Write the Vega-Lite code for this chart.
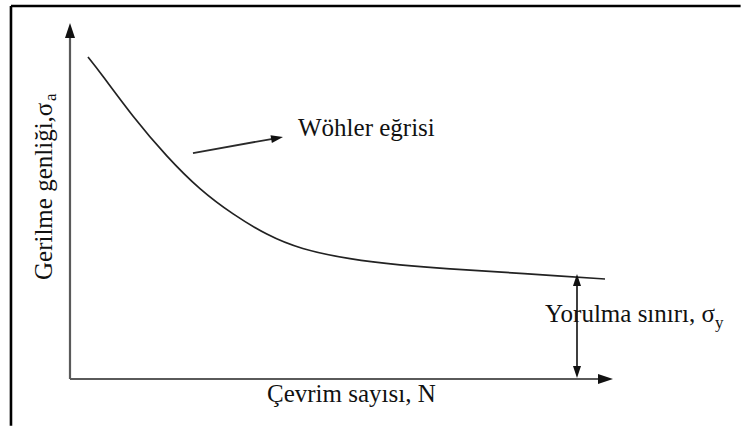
{
  "$schema": "https://vega.github.io/schema/vega-lite/v6.json",
  "width": 741,
  "height": 426,
  "autosize": {"type": "none"},
  "padding": 0,
  "background": "white",
  "config": {"view": {"stroke": null}},
  "datasets": {
    "frame": [
      {"x": -10.87, "y": 104.78, "x2": 123.5, "y2": 104.78},
      {"x": -10.87, "y": 104.78, "x2": -10.87, "y2": -13.15}
    ],
    "axes": [
      {"x": 0, "y": 0, "x2": 0, "y2": 96.5},
      {"x": 0, "y": 0, "x2": 97.8, "y2": 0}
    ],
    "axisHeads": [
      {"x": 0, "y": 100, "dir": "up"},
      {"x": 100, "y": 0, "dir": "right"}
    ],
    "wohler": [
      {"x": 3.31, "y": 90.45},
      {"x": 5.52, "y": 86.24},
      {"x": 11.6, "y": 73.6},
      {"x": 17.86, "y": 62.36},
      {"x": 23.94, "y": 53.09},
      {"x": 30.02, "y": 46.2},
      {"x": 36.28, "y": 40.4},
      {"x": 42.36, "y": 36.5},
      {"x": 51.57, "y": 33.6},
      {"x": 60.77, "y": 32.0},
      {"x": 69.98, "y": 30.9},
      {"x": 79.19, "y": 30.06},
      {"x": 90.24, "y": 28.93},
      {"x": 98.53, "y": 28.09}
    ],
    "pointers": [
      {"x": 22.65, "y": 63.48, "x2": 37.6, "y2": 67.55},
      {"x": 93.37, "y": 27.5, "x2": 93.37, "y2": 2.0}
    ],
    "limitHeads": [
      {"x": 93.37, "y": 29.49, "dir": "up"},
      {"x": 93.37, "y": 0.28, "dir": "down"}
    ],
    "curveHead": [
      {"x": 39.23, "y": 67.98, "dir": "right"}
    ],
    "labels": [
      {"x": 41.99, "y": 68.26, "label": "Wöhler eğrisi"},
      {"x": 87.48, "y": 16.01, "label": "Yorulma sınırı, σ"},
      {"x": 36.28, "y": -6.46, "label": "Çevrim sayısı, N"}
    ],
    "subscripts": [
      {"x": 118.78, "y": 14.33, "label": "y"}
    ],
    "yTitle": [
      {"x": -3.31, "y": 27.81, "label": "Gerilme genliği,σ"}
    ],
    "yTitleSub": [
      {"x": -2.58, "y": 78.09, "label": "a"}
    ]
  },
  "encoding": {
    "x": {"field": "x", "type": "quantitative", "axis": null,
          "scale": {"domain": [-12.891, 123.573], "nice": false, "zero": false}},
    "y": {"field": "y", "type": "quantitative", "axis": null,
          "scale": {"domain": [-13.202, 106.461], "nice": false, "zero": false}}
  },
  "layer": [
    {
      "data": {"name": "frame"},
      "mark": {"type": "rule", "color": "#000000", "strokeWidth": 2.6},
      "encoding": {"x2": {"field": "x2"}, "y2": {"field": "y2"}}
    },
    {
      "data": {"name": "axes"},
      "mark": {"type": "rule", "color": "#5a5a5a", "strokeWidth": 2.2},
      "encoding": {"x2": {"field": "x2"}, "y2": {"field": "y2"}}
    },
    {
      "data": {"name": "axisHeads"},
      "mark": {"type": "point", "filled": true, "opacity": 1, "color": "#111111", "size": 225, "strokeWidth": 0},
      "encoding": {
        "shape": {"field": "dir", "type": "nominal", "legend": null,
                  "scale": {"domain": ["up", "down", "right"],
                            "range": ["M0,0L-0.667,2L0.667,2Z", "M0,0L-0.667,-2L0.667,-2Z", "M0,0L-2,-0.667L-2,0.667Z"]}}
      }
    },
    {
      "data": {"name": "wohler"},
      "mark": {"type": "line", "color": "#222222", "strokeWidth": 1.7, "interpolate": "basis"},
      "encoding": {}
    },
    {
      "data": {"name": "pointers"},
      "mark": {"type": "rule", "color": "#2a2a2a", "strokeWidth": 1.8},
      "encoding": {"x2": {"field": "x2"}, "y2": {"field": "y2"}}
    },
    {
      "data": {"name": "limitHeads"},
      "mark": {"type": "point", "filled": true, "opacity": 1, "color": "#111111", "size": 144, "strokeWidth": 0},
      "encoding": {
        "shape": {"field": "dir", "type": "nominal", "legend": null,
                  "scale": {"domain": ["up", "down", "right"],
                            "range": ["M0,0L-0.667,2L0.667,2Z", "M0,0L-0.667,-2L0.667,-2Z", "M0,0L-2,-0.667L-2,0.667Z"]}}
      }
    },
    {
      "data": {"name": "curveHead"},
      "mark": {"type": "point", "filled": true, "opacity": 1, "color": "#111111", "size": 144, "strokeWidth": 0, "angle": 350,
               "shape": "M0,0L-2,-0.667L-2,0.667Z"},
      "encoding": {}
    },
    {
      "data": {"name": "labels"},
      "mark": {"type": "text", "font": "Liberation Serif", "fontSize": 25, "color": "#111111", "align": "left", "baseline": "alphabetic"},
      "encoding": {"text": {"field": "label"}}
    },
    {
      "data": {"name": "subscripts"},
      "mark": {"type": "text", "font": "Liberation Serif", "fontSize": 17, "color": "#111111", "align": "left", "baseline": "alphabetic"},
      "encoding": {"text": {"field": "label"}}
    },
    {
      "data": {"name": "yTitle"},
      "mark": {"type": "text", "font": "Liberation Serif", "fontSize": 25, "color": "#111111", "align": "left", "baseline": "alphabetic", "angle": 270},
      "encoding": {"text": {"field": "label"}}
    },
    {
      "data": {"name": "yTitleSub"},
      "mark": {"type": "text", "font": "Liberation Serif", "fontSize": 17, "color": "#111111", "align": "left", "baseline": "alphabetic", "angle": 270},
      "encoding": {"text": {"field": "label"}}
    }
  ]
}
